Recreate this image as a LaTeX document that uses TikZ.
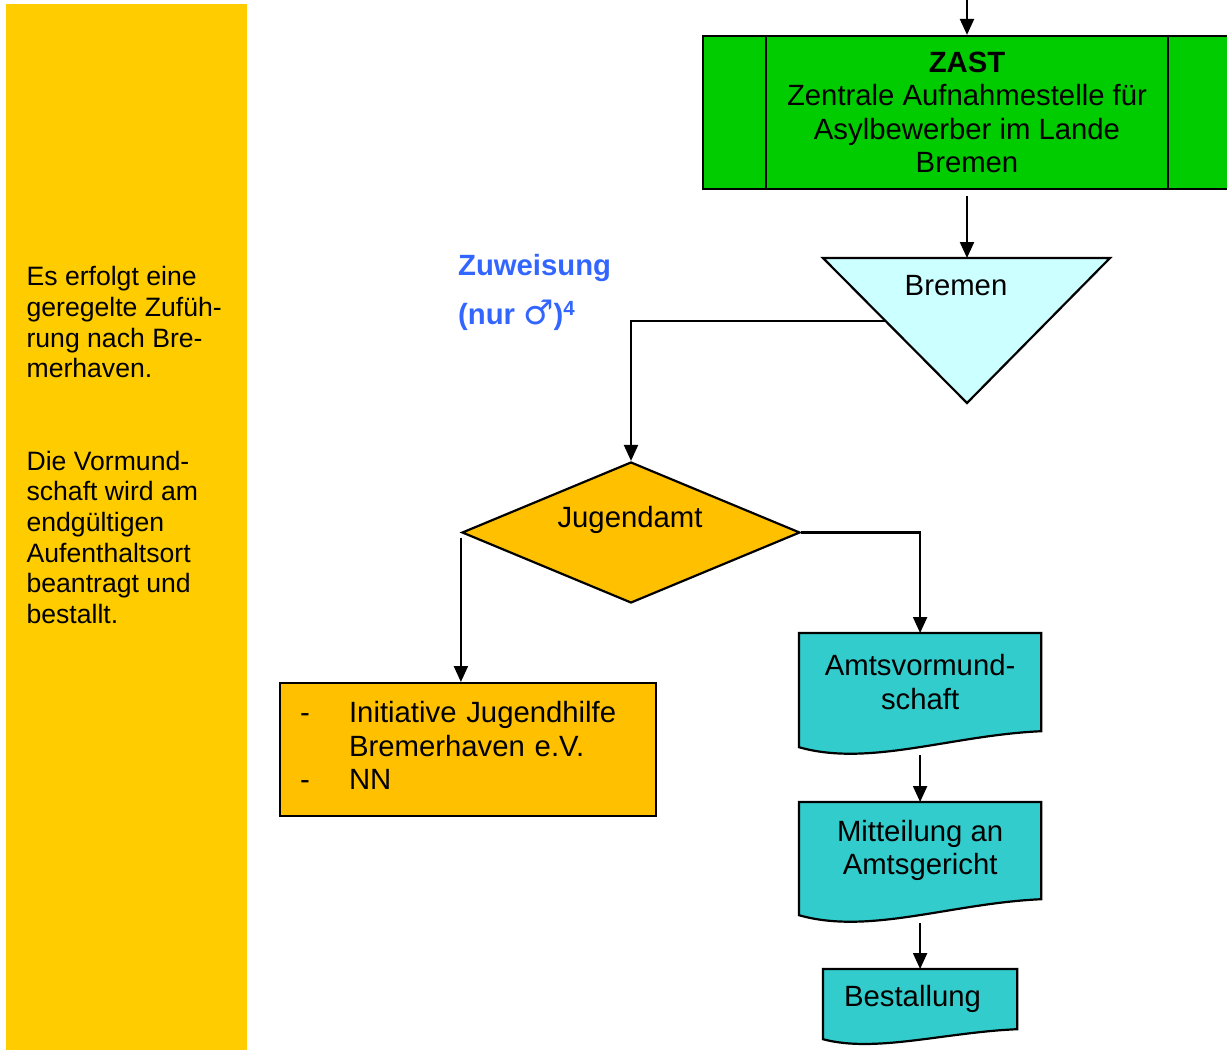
\documentclass[tikz,border=0pt]{standalone}
\usepackage{fontspec}
\setmainfont{Liberation Sans}
\newfontfamily\symfont{DejaVu Sans}
\usepackage{tikz}
\usetikzlibrary{calc,arrows.meta,positioning,shapes.geometric,backgrounds}

\definecolor{barcol}{HTML}{FFCC00}
\definecolor{zastcol}{HTML}{00CC00}
\definecolor{bremcol}{HTML}{CCFFFF}
\definecolor{jugcol}{HTML}{FFC000}
\definecolor{doccol}{HTML}{33CCCC}
\definecolor{zuwcol}{HTML}{3366FF}

\newcommand\mainsize{\fontsize{29.3}{33.6}\selectfont}
\newcommand\sidesize{\fontsize{26.6}{30.7}\selectfont}

\begin{document}
\begin{tikzpicture}[x=1pt,y=-1pt,>={Triangle[length=16pt,width=14pt]},line width=2.2pt,font=\mainsize]
	    \tikzstyle{box}=[draw=black,rectangle,inner sep=0pt]
	    \tikzstyle{doc}=[rectangle,inner sep=0pt,minimum width=240pt,align=center,anchor=north west]
	    \tikzstyle{docline}=[draw=black,line width=2.2pt,fill=doccol]

	    \useasboundingbox (0,0) rectangle (1227,1050);

	    % side bar
	    \fill[barcol] (6,4) rectangle (247,1050);
	    \node[anchor=north west, inner sep=0pt, align=left, font=\sidesize] (note) at (25.5,265.5) {Es erfolgt eine\\geregelte Zuf\"uh-\\rung nach Bre-\\merhaven.\\[61.4pt]Die Vormund-\\schaft wird am\\endg\"ultigen\\Aufenthaltsort\\beantragt und\\bestallt.};

	    % ZAST
	    \node[box, fill=zastcol, minimum width=528pt, minimum height=153pt, align=center] (zast) at (967,112.5) {\textbf{ZAST}\\Zentrale Aufnahmestelle f\"ur\\Asylbewerber im Lande\\Bremen};
	    \draw ($(zast.north west)+(64,0)$) -- ($(zast.south west)+(64,0)$);
	    \draw ($(zast.north east)+(-64,0)$) -- ($(zast.south east)+(-64,0)$);
	    \coordinate (start) at (967,0);
	    \path[->] (start) edge (zast.north);

	    % Bremen
	    \coordinate (brtl) at (823,258);
	    \coordinate (brtr) at (1110,258);
	    \coordinate (brbot) at (967,403);
	    \coordinate (brtop) at (967,258);
	    \coordinate (brleft) at ($(brtl)!0.434!(brbot)$);
	    \filldraw[fill=bremcol] (brtl) -- (brtr) -- (brbot) -- cycle;
	    \node[anchor=base] (brem) at (956,295) {Bremen};
	    \path[->, shorten <=6pt] (zast.south) edge (brtop);

	    \node[anchor=north west, inner sep=0pt, align=left, font=\mainsize\bfseries, text=zuwcol] (zuw) at (457,253) {Zuweisung\\[16pt](nur {\symfont\mdseries\fontsize{34}{34}\selectfont ♂})\textsuperscript{4}};

	    % Jugendamt
	    \node[diamond, draw, fill=jugcol, minimum width=338pt, minimum height=141pt, inner sep=0pt] (jug) at (631,532.5) {};
	    \node[anchor=base] (jugtxt) at (630,527) {Jugendamt};
	    \draw[->] (brleft) -| (jug.north);

	    \node[box, fill=jugcol, text width=336pt, inner xsep=20pt, minimum height=133pt, anchor=north west] (ini) at (279,682) {\begin{tabular}{@{}p{49pt}@{}l@{}}-&Initiative Jugendhilfe\\&Bremerhaven e.V.\\-&NN\end{tabular}};
	    \draw[->, shorten <=5pt] (jug.west) -- (jug.west |- ini.north);

	    % Vormundschaft
	    \node[doc, minimum height=96pt] (amt) at (799,633) {Amtsvormund-\\schaft};
	    \node[doc, minimum height=95pt] (mit) at (799,802) {Mitteilung an\\Amtsgericht};
	    \node[doc, minimum width=192pt, minimum height=58pt, text width=152pt, inner xsep=20pt, align=left] (best) at (823,969) {Bestallung};

	    \begin{scope}[on background layer]
	    \path[docline] (amt.north west) -- (amt.north east) -- (amt.south east) .. controls ($(amt.south east)+(-90,4)$) and ($(amt.south west)+(70,36)$) .. ($(amt.south west)+(0,16)$) -- cycle;
	    \path[docline] (mit.north west) -- (mit.north east) -- (mit.south east) .. controls ($(mit.south east)+(-90,4)$) and ($(mit.south west)+(70,36)$) .. ($(mit.south west)+(0,16)$) -- cycle;
	    \path[docline] (best.north west) -- (best.north east) -- (best.south east) .. controls ($(best.south east)+(-72,3)$) and ($(best.south west)+(52,24)$) .. ($(best.south west)+(0,10)$) -- cycle;
	    \end{scope}

	    \coordinate (amtfoot) at ($(amt.south)+(0,24)$);
	    \coordinate (mitfoot) at ($(mit.south)+(0,24)$);
	    \draw[->] (jug.east) -| (amt.north);
	    \path[->] (amtfoot) edge (mit.north);
	    \path[->] (mitfoot) edge (best.north);

\end{tikzpicture}
\end{document}
